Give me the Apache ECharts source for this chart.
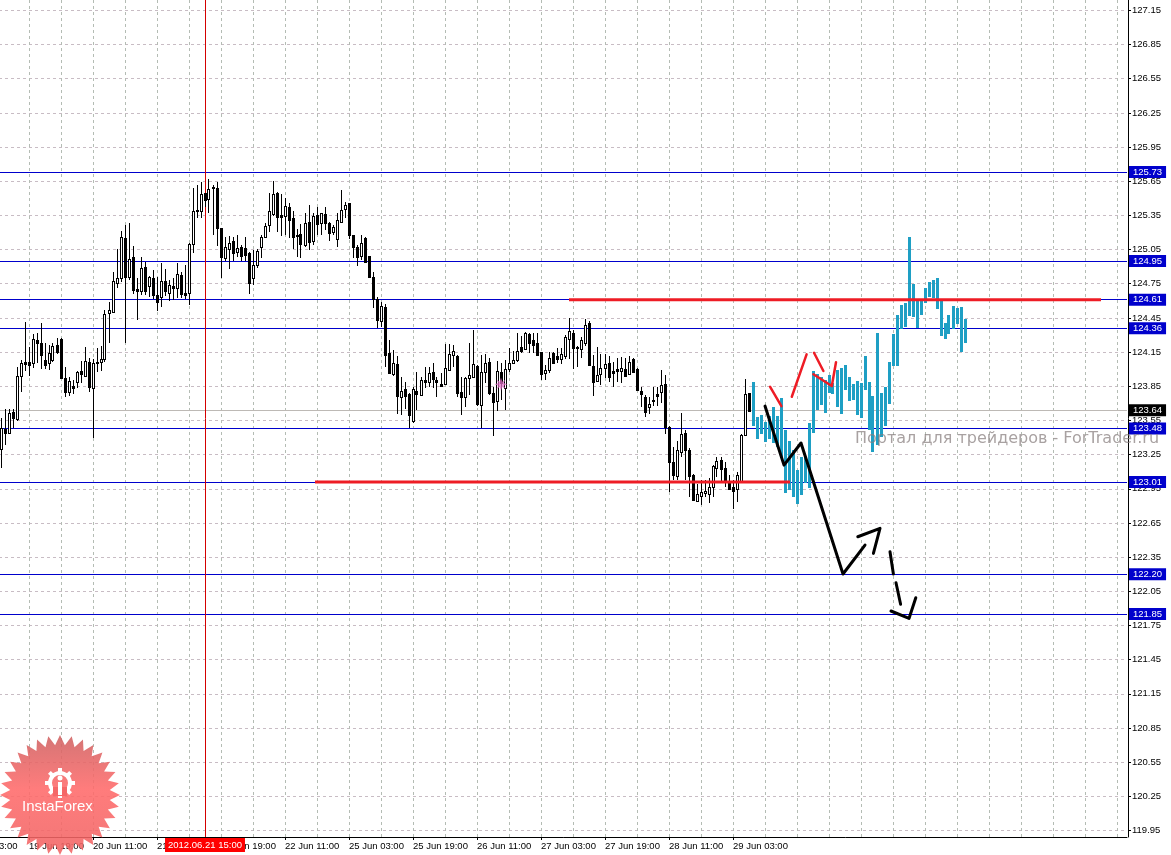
<!DOCTYPE html>
<html><head><meta charset="utf-8">
<style>html,body{margin:0;padding:0;background:#fff}#c{width:1171px;height:855px}</style>
<script src="https://cdn.jsdelivr.net/npm/echarts@6/dist/echarts.min.js"></script>
</head><body><div id="c"></div>
<script>
// candles: [open, close, low, high]
const ohlc = [
[123.284,123.469,123.123,123.556],[123.460,123.425,123.322,123.635],[123.425,123.600,123.419,123.635],[123.615,123.556,123.469,123.635],
[123.548,123.928,123.536,124.010],[123.931,124.039,123.791,124.069],[124.051,124.036,123.972,124.399],[124.051,124.028,123.928,124.186],
[124.039,124.250,123.995,124.297],[124.241,124.221,124.045,124.303],[124.218,124.113,123.990,124.391],[124.069,124.025,123.990,124.215],
[124.039,124.130,123.981,124.200],[124.069,124.192,124.054,124.215],[124.200,124.142,124.121,124.265],[124.250,123.913,123.908,124.259],
[123.911,123.791,123.747,124.004],[123.785,123.881,123.752,123.922],[123.840,123.826,123.770,123.893],[123.878,123.963,123.820,123.972],
[123.972,123.949,123.864,124.060],[123.931,124.057,123.922,124.183],[124.051,123.829,123.791,124.083],[123.826,124.039,123.387,124.074],
[124.051,124.039,123.966,124.177],[124.048,124.074,123.969,124.194],[124.080,124.470,124.054,124.508],[124.478,124.505,124.215,124.581],
[124.493,124.759,124.478,124.844],[124.748,124.786,124.698,125.043],[124.786,125.146,124.756,125.201],[125.140,124.800,124.221,125.254],
[124.794,124.953,124.771,125.269],[124.970,124.683,124.645,125.070],[124.692,124.677,124.420,124.786],[124.677,124.874,124.639,124.970],
[124.882,124.677,124.639,124.932],[124.718,124.800,124.625,124.806],[124.789,124.639,124.601,124.859],[124.636,124.581,124.502,124.800],
[124.625,124.765,124.537,124.923],[124.759,124.677,124.631,124.865],[124.660,124.724,124.590,124.771],[124.718,124.704,124.595,124.786],
[124.698,124.821,124.610,124.917],[124.812,124.648,124.610,124.844],[124.657,124.642,124.601,124.903],[124.660,125.087,124.552,125.093],
[125.090,125.374,125.011,125.576],[125.383,125.374,125.313,125.605],[125.374,125.526,125.313,125.635],[125.532,125.474,125.415,125.538],
[125.485,125.567,125.356,125.655],[125.585,125.576,125.166,125.605],[125.576,125.231,125.070,125.635],[125.225,124.976,124.786,125.225],
[124.967,125.058,124.941,125.152],[125.046,125.093,124.865,125.160],[125.114,125.011,124.941,125.152],[125.020,125.049,124.970,125.166],
[125.058,124.982,124.941,125.078],[125.052,124.991,124.941,125.146],[125.008,124.748,124.648,125.020],[124.792,124.900,124.727,125.035],
[124.906,125.026,124.874,125.040],[125.064,125.146,124.961,125.166],[125.149,125.245,125.137,125.269],[125.254,125.380,125.195,125.538],
[125.351,125.526,125.336,125.640],[125.532,125.327,125.195,125.547],[125.342,125.324,125.157,125.526],[125.333,125.418,125.166,125.488],
[125.412,125.298,125.137,125.444],[125.313,125.152,125.043,125.380],[125.166,125.157,124.970,125.216],[125.175,125.087,124.967,125.260],
[125.078,125.269,125.064,125.362],[125.280,125.108,125.035,125.430],[125.116,125.333,125.078,125.356],[125.342,125.263,125.166,125.409],
[125.275,125.356,125.166,125.362],[125.351,125.275,125.210,125.409],[125.275,125.187,125.114,125.283],[125.193,125.234,125.166,125.254],
[125.134,125.295,125.064,125.356],[125.283,125.383,125.275,125.561],[125.397,125.430,125.313,125.459],[125.444,125.166,125.128,125.450],
[125.166,125.064,124.967,125.166],[125.064,124.976,124.897,125.078],[124.985,125.093,124.947,125.166],[125.140,124.932,124.917,125.146],
[124.982,124.794,124.786,124.982],[124.800,124.601,124.522,124.844],[124.601,124.420,124.353,124.625],[124.414,124.543,124.361,124.581],
[124.531,124.112,124.010,124.560],[124.133,123.951,123.943,124.244],[123.943,124.039,123.928,124.156],[124.033,123.752,123.591,124.104],
[123.747,123.796,123.586,123.922],[123.811,123.752,123.635,123.878],[123.767,123.586,123.468,123.776],[123.533,123.814,123.518,123.834],
[123.796,123.770,123.629,123.966],[123.761,123.893,123.752,123.922],[123.893,123.878,123.820,124.010],[123.878,123.951,123.828,124.004],
[123.960,123.899,123.820,124.039],[123.893,123.878,123.747,123.922],[123.855,123.840,123.834,123.957],[123.858,123.995,123.849,124.209],
[123.981,124.121,123.975,124.209],[124.109,124.145,124.004,124.200],[124.104,123.776,123.741,124.112],[123.785,123.747,123.586,123.916],
[123.741,123.908,123.653,123.922],[123.913,123.934,123.761,124.215],[123.922,124.030,123.908,124.332],[124.016,123.682,123.665,124.025],
[123.673,123.960,123.468,124.112],[123.963,124.039,123.864,124.121],[124.051,123.782,123.761,124.083],[123.782,123.703,123.404,123.834],
[123.711,123.972,123.621,124.060],[123.966,123.869,123.717,124.039],[123.820,123.987,123.629,124.069],[123.987,124.039,123.966,124.171],
[124.039,124.069,124.033,124.150],[124.069,124.148,124.054,124.303],[124.180,124.145,124.133,124.279],[124.168,124.303,124.156,124.317],
[124.300,124.221,124.133,124.303],[124.244,124.203,124.127,124.303],[124.215,124.112,124.104,124.303],[124.139,123.946,123.893,124.142],
[123.957,123.981,123.893,124.025],[123.981,124.083,123.951,124.142],[124.133,124.045,124.039,124.142],[124.101,124.080,124.039,124.171],
[124.074,124.121,124.033,124.171],[124.107,124.268,124.074,124.288],[124.256,124.323,124.074,124.440],[124.303,124.177,123.989,124.332],
[124.186,124.171,124.010,124.194],[124.168,124.244,124.083,124.273],[124.215,124.376,124.194,124.429],[124.393,124.025,124.016,124.414],
[124.016,123.878,123.755,124.112],[123.887,123.934,123.878,124.186],[123.946,123.995,123.849,124.121],[123.998,124.033,123.908,124.121],
[124.045,123.922,123.878,124.104],[123.975,123.951,123.834,124.054],[123.992,123.975,123.878,124.083],[123.969,123.995,123.864,124.098],
[123.987,123.928,123.922,124.083],[123.946,124.048,123.946,124.104],[124.074,123.966,123.957,124.083],[123.989,123.805,123.799,123.995],
[123.796,123.770,123.659,123.828],[123.747,123.615,123.565,123.761],[123.659,123.679,123.594,123.747],[123.717,123.708,123.665,123.828],
[123.770,123.755,123.668,123.834],[123.790,123.846,123.694,123.981],[123.858,123.483,123.416,123.937],[123.483,123.173,122.912,123.489],
[123.173,123.059,123.015,123.307],[123.053,123.275,123.015,123.360],[123.264,123.416,123.220,123.600],[123.425,123.278,123.015,123.454],
[123.278,123.050,122.868,123.293],[123.059,122.839,122.833,123.068],[122.830,122.889,122.822,122.980],[122.877,122.906,122.798,123.015],
[122.898,122.918,122.868,123.015],[122.889,122.953,122.816,123.029],[122.956,123.138,122.868,123.147],[123.123,123.182,123.044,123.214],
[123.190,123.108,123.009,123.220],[123.117,123.000,122.956,123.176],[123.000,122.936,122.927,123.059],[122.950,122.921,122.760,123.015],
[122.936,123.059,122.825,123.082],[123.000,123.410,122.994,123.419],[123.413,123.770,123.404,123.899],[123.776,123.624,123.612,123.776]];

// overlaid cyan price ranges [high, low], first bar is forecastStart
const forecastStart = 188;
const forecast = [
[123.875,123.489],[123.571,123.375],[123.583,123.419],[123.524,123.348],[123.577,123.375],[123.653,123.337],[123.577,123.307],[123.732,123.220],
[123.454,122.898],[123.360,122.927],[123.278,122.868],[123.103,122.804],[123.220,122.883],[123.220,122.985],[123.512,122.942],[123.972,123.430],
[123.943,123.629],[123.922,123.673],[123.893,123.606],[123.937,123.776],[123.864,123.770],[123.981,123.659],[123.995,123.594],[124.025,123.805],
[123.919,123.708],[123.858,123.717],[123.887,123.586],[123.869,123.562],[124.104,123.805],[123.878,123.454],[123.752,123.263],[124.303,123.322],
[123.776,123.395],[123.834,123.489],[124.051,123.682],[124.297,124.019],[124.464,124.019],[124.551,124.338],[124.572,124.355],[125.146,124.455],
[124.733,124.443],[124.589,124.349],[124.589,124.464],[124.698,124.566],[124.756,124.619],[124.771,124.610],[124.786,124.516],[124.589,124.282],
[124.390,124.256],[124.464,124.297],[124.543,124.338],[124.528,124.385],[124.534,124.139],[124.428,124.221]];

const quoteShift = 0.012; // constant reading correction against the price scale

const blackStrokes = [
 [[191,123.664],[195.75,123.146],[200,123.340],[210.5,122.190],[216,122.444]],
 [[214.2,122.517],[219.75,122.591],[218.1,122.371]],
 [[222.25,122.385],[223.1,122.190]],
 [[223.75,122.113],[224.9,121.924]],
 [[222.5,121.865],[227,121.800],[228.7,121.982]]];
const redStrokes = [
 [[192.25,123.834],[195.1,123.664]],
 [[197.7,123.746],[201.4,124.118]],
 [[203.25,124.132],[205.6,123.972]],
 [[203.1,123.943],[207.7,123.840],[208.75,124.048]]];
const pinkMarker = [125, 123.867];

const levelValues = [125.73,124.95,124.61,124.36,123.48,123.01,122.20,121.85];
const currentPrice = 123.64;
const thickLevels = [[[142,124.61],[275,124.61]],[[78.5,123.01],[197.25,123.01]]];
const cursorBar = 51;
const cursorLabel = '2012.06.21 15:00';

const barCount = 282;
const categories = Array.from({length:barCount},(_,i)=>String(i));
const yTicks = [127.15,126.85,126.55,126.25,125.95,125.65,125.35,125.05,124.75,124.45,124.15,123.85,123.55,123.25,122.95,122.65,122.35,122.05,121.75,121.45,121.15,120.85,120.55,120.25,119.95];
const xTickBars = [7,23,39,55,71,87,103,119,135,151,167,183];
const xTickLabels = ['19 Jun 19:00','20 Jun 11:00','21 Jun 03:00','21 Jun 19:00','22 Jun 11:00','25 Jun 03:00','25 Jun 19:00','26 Jun 11:00','27 Jun 03:00','27 Jun 19:00','28 Jun 11:00','29 Jun 03:00'];
const xClippedLabel = '3:00';
const xGridBars = [7,15,23,31,39,47,55,63,71,79,87,95,103,111,119,127,135,143,151,159,167,175,183,191,199,207,215,223,231,239,247,255,263,271,279];

const FONT = '"Liberation Sans", Arial, sans-serif';
const shift = v => +(v + quoteShift).toFixed(3);
const strokeSeries = (pts, color, width) => ({
  type:'line', xAxisIndex:1, yAxisIndex:0, data:pts.map(p=>[p[0], shift(p[1])]), showSymbol:false, symbol:'none', silent:true,
  lineStyle:{color, width, cap:'round', join:'round'}, z:6, animation:false
});
const levelLabel = (bg) => ({show:true, position:'end', distance:2, formatter:p=>p.value.toFixed(2), color:'#fff', backgroundColor:bg, fontFamily:FONT, fontSize:9.5, padding:[1,4,0,4], lineHeight:11});

// candle drawn on whole pixels through the axes: [bar, open, close, low, high]
function renderCandle(params, api){
  const bar=api.value(0), o=api.value(1), c=api.value(2), l=api.value(3), h=api.value(4);
  const col=Math.floor(api.coord([bar,o])[0]);
  const yO=Math.round(api.coord([bar,o])[1]), yC=Math.round(api.coord([bar,c])[1]);
  const yL=Math.round(api.coord([bar,l])[1]), yH=Math.round(api.coord([bar,h])[1]);
  const top=Math.min(yO,yC), hgt=Math.max(Math.abs(yO-yC),1);
  const kids=[{type:'rect',shape:{x:col,y:yH,width:1,height:Math.max(yL-yH,1)},style:{fill:'#000'}},
              {type:'rect',shape:{x:col-1,y:top,width:3,height:hgt+1},style:{fill:'#000'}}];
  if(c>o && hgt>1) kids.push({type:'rect',shape:{x:col,y:top+1,width:1,height:hgt-1},style:{fill:'#fff'}});
  return {type:'group',children:kids};
}
function renderRange(params, api){
  const bar=api.value(0), col=Math.floor(api.coord([bar,api.value(1)])[0]);
  const yH=Math.round(api.coord([bar,api.value(1)])[1]), yL=Math.round(api.coord([bar,api.value(2)])[1]);
  return {type:'rect',shape:{x:col-1,y:yH,width:3,height:yL-yH},style:{fill:'#1e9fc4'}};
}

const burstCenter=[60,795], burstPts=[];
for(let k=0;k<64;k++){const a=k*Math.PI/32, r=k%2?50:60; burstPts.push([burstCenter[0]+r*Math.sin(a), burstCenter[1]-r*Math.cos(a)]);}
const gearTeeth=[];
for(let k=0;k<8;k++){gearTeeth.push({type:'rect',x:60-2,y:783-15,originX:2,originY:15,rotation:k*Math.PI/4,shape:{x:0,y:0,width:4,height:5},style:{fill:'#fff'},z:3,silent:true});}

const option = {
  animation:false, backgroundColor:'#fff',
  grid:{left:-1, top:0, width:barCount*4, height:837, outerBoundsMode:'none'},
  xAxis:[
    {type:'category', data:categories, show:false, boundaryGap:true},
    {type:'value', min:-0.5, max:barCount-0.5, position:'bottom',
     axisLine:{show:true,onZero:false,lineStyle:{color:'#000',width:1}},
     axisTick:{show:true,length:3,customValues:xTickBars,lineStyle:{color:'#000'}},
     minorTick:{show:false},
     axisLabel:{show:true, customValues:[-0.5].concat(xTickBars), align:'left', margin:4, color:'#000', fontFamily:FONT, fontSize:9.5,
       formatter:v=>{const i=xTickBars.indexOf(v);return i>=0?xTickLabels[i]:xClippedLabel;}},
     splitLine:{show:false}},
    {type:'value', min:-0.5, max:barCount-0.5, position:'bottom', axisLine:{show:false},axisLabel:{show:false},
     axisTick:{show:false,customValues:xGridBars},
     splitLine:{show:true,lineStyle:{color:'#b4bcb4',type:[3,3],width:1}}}
  ],
  yAxis:{type:'value', position:'right', offset:1, min:119.893, max:127.241,
    axisLine:{show:true,onZero:false,lineStyle:{color:'#000',width:1}},
    axisTick:{show:true,length:3,customValues:yTicks,lineStyle:{color:'#000'}},
    axisLabel:{show:true,customValues:yTicks,margin:4,color:'#000',fontFamily:FONT,fontSize:9.5,formatter:v=>v.toFixed(2)},
    splitLine:{show:true,lineStyle:{color:'#c8bcc4',type:[3,3],width:1}}},
  graphic:[
    {type:'polygon',shape:{points:burstPts},z:1,silent:true,
     style:{opacity:.88,fill:new echarts.graphic.LinearGradient(0,0,0,1,[{offset:0,color:'#cf6262'},{offset:.45,color:'#ff6a6a'},{offset:1,color:'#f06464'}])}},
    {type:'ring',shape:{cx:60,cy:783,r:12,r0:8},style:{fill:'#fff'},z:3,silent:true},
    ...gearTeeth,
    {type:'rect',shape:{x:53,y:787,width:14,height:9},style:{fill:'#f56767'},z:3,silent:true},
    {type:'circle',shape:{cx:60,cy:778,r:2.5},style:{fill:'#fff'},z:3,silent:true},
    {type:'rect',shape:{x:58,y:782,width:4,height:13},style:{fill:'#fff'},z:3,silent:true},
    {type:'text',x:22,y:807,z:3,silent:true,style:{text:'InstaForex',fill:'#fff',font:'15px '+FONT,verticalAlign:'middle'}},
    {type:'text',x:855,y:439,z:7,silent:true,style:{text:'Портал для трейдеров - ForTrader.ru',fill:'rgba(135,125,125,.72)',font:'16px "DejaVu Sans"',verticalAlign:'middle'}}
  ],
  series:[
    {type:'custom', xAxisIndex:0, yAxisIndex:0, silent:true, z:3, renderItem:renderCandle, clip:false,
     encode:{x:0,y:[1,2,3,4]},
     data:ohlc.map((r,i)=>[i,shift(r[0]),shift(r[1]),shift(r[2]),shift(r[3])]),
     markLine:{silent:true,symbol:'none',animation:false,precision:2,z:2,
       data:levelValues.map(v=>({yAxis:v,lineStyle:{color:'#0000cc',width:1,type:'solid'},label:levelLabel('#0000cc')}))
       .concat([{yAxis:currentPrice,lineStyle:{color:'#bdb9b5',width:1,type:'solid'},label:levelLabel('#000')},
         {xAxis:cursorBar,lineStyle:{color:'#d40000',width:1,type:'solid'},
          label:{show:true,position:'start',distance:1,formatter:cursorLabel,color:'#fff',backgroundColor:'#ff0000',fontFamily:FONT,fontSize:9.5,padding:[2,3,2,3]}}])}},
    {type:'custom', xAxisIndex:0, yAxisIndex:0, silent:true, z:4, renderItem:renderRange, clip:false,
     encode:{x:0,y:[1,2]},
     data:forecast.map((r,i)=>[i+forecastStart,shift(r[0]),shift(r[1])])},
    ...thickLevels.map(p=>({type:'line',xAxisIndex:1,yAxisIndex:0,data:p,symbol:'none',silent:true,lineStyle:{color:'#ee1c25',width:3},z:5,animation:false})),
    ...redStrokes.map(p=>strokeSeries(p,'#ee1c25',2.5)),
    ...blackStrokes.map(p=>strokeSeries(p,'#000',3)),
    {type:'scatter',xAxisIndex:1,yAxisIndex:0,silent:true,z:5,animation:false,data:[[pinkMarker[0],pinkMarker[1]]],symbolSize:13,
     symbol:'path://M0 -10 L2 -4 L7 -7 L4 -2 L10 0 L4 2 L7 7 L2 4 L0 10 L-2 4 L-7 7 L-4 2 L-10 0 L-4 -2 L-7 -7 L-2 -4 Z',
     itemStyle:{color:'#e070c8',opacity:.75}}
  ]
};
echarts.init(document.getElementById('c')).setOption(option);
</script></body></html>
